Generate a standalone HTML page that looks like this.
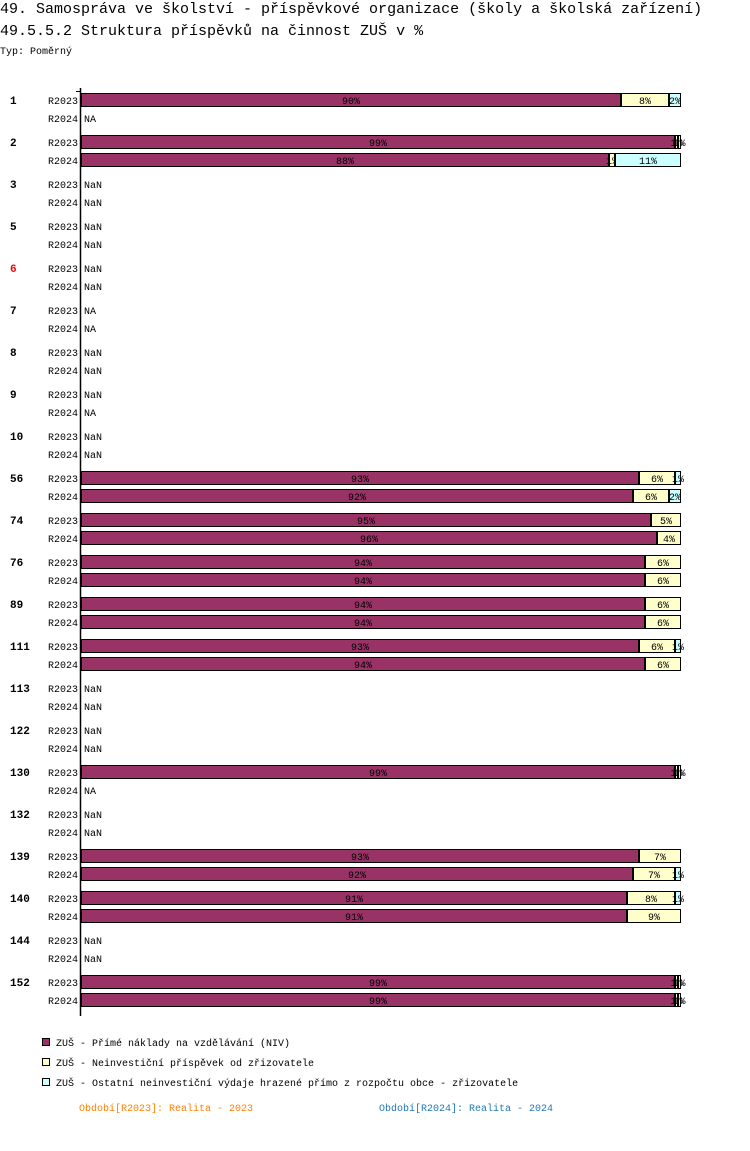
<!DOCTYPE html>
<html><head><meta charset="utf-8">
<style>
body{margin:0;background:#fff;width:750px;height:1146px;overflow:hidden;font-family:"Liberation Mono",monospace;}
svg text{font-family:"Liberation Mono",monospace;}
</style></head>
<body>
<svg id="chart" width="750" height="1146" xmlns="http://www.w3.org/2000/svg">
<text x="0" y="13" font-size="15" fill="#000">49. Samospráva ve školství - příspěvkové organizace (školy a školská zařízení)</text>
<text x="0" y="35" font-size="15" fill="#000">49.5.5.2 Struktura příspěvků na činnost ZUŠ v %</text>
<text x="0" y="54" font-size="10" fill="#000">Typ: Poměrný</text>
<line x1="80.5" y1="88" x2="80.5" y2="1016" stroke="#000" stroke-width="1.5"/>
<line x1="76" y1="91.5" x2="80" y2="91.5" stroke="#000"/>
<g id="bars"></g>
<g>
<rect x="42.5" y="1038.5" width="7" height="7" fill="#993366" stroke="#000"/>
<text x="56" y="1046" font-size="10">ZUŠ - Přímé náklady na vzdělávání (NIV)</text>
<rect x="42.5" y="1058.5" width="7" height="7" fill="#ffffcc" stroke="#000"/>
<text x="56" y="1066" font-size="10">ZUŠ - Neinvestiční příspěvek od zřizovatele</text>
<rect x="42.5" y="1078.5" width="7" height="7" fill="#ccffff" stroke="#000"/>
<text x="56" y="1086" font-size="10">ZUŠ - Ostatní neinvestiční výdaje hrazené přímo z rozpočtu obce - zřizovatele</text>
</g>
<text x="79" y="1111" font-size="10" fill="#ff8000">Období[R2023]: Realita - 2023</text>
<text x="379" y="1111" font-size="10" fill="#1f77b4">Období[R2024]: Realita - 2024</text>
</svg>
<script>
const groups = ["1","2","3","5","6","7","8","9","10","56","74","76","89","111","113","122","130","132","139","140","144","152"];
const series2023 = [[90,8,2],[99,0.5,0.5],"NaN","NaN","NaN","NA","NaN","NaN","NaN",[93,6,1],[95,5,0],[94,6,0],[94,6,0],[93,6,1],"NaN","NaN",[99,0.5,0.5],"NaN",[93,7,0],[91,8,1],"NaN",[99,0.5,0.5]];
const series2024 = ["NA",[88,1,11],"NaN","NaN","NaN","NA","NaN","NA","NaN",[92,6,2],[96,4,0],[94,6,0],[94,6,0],[94,6,0],"NaN","NaN","NA","NaN",[92,7,1],[91,9,0],"NaN",[99,0.5,0.5]];
const periods = ["R2023","R2024"];
const highlightGroup = "6";

const NS = "http://www.w3.org/2000/svg";
const g = document.getElementById("bars");
const colors = ["#993366","#ffffcc","#ccffff"];
const x0 = 81, plotW = 600, groupY0 = 100, groupStep = 42, rowStep = 18, barH = 14;
function xScale(v){ return v/100*plotW; }
function yRow(gi, ri){ return groupY0 + gi*groupStep + ri*rowStep; }
function mk(tag, attrs){ const e=document.createElementNS(NS,tag); for(const k in attrs) e.setAttribute(k,attrs[k]); g.appendChild(e); return e; }

groups.forEach((name, gi) => {
  const gl = mk("text",{x:10,y:yRow(gi,0)+4,"font-size":11,"font-weight":"bold",fill: name===highlightGroup?"#ff0000":"#000"});
  
  
  gl.textContent = name;
  [series2023[gi], series2024[gi]].forEach((vals, ri) => {
    const cy = yRow(gi, ri);
    const pl = mk("text",{x:78,y:cy+4,"font-size":10,"text-anchor":"end",fill:"#000"});
    
    
    pl.textContent = periods[ri];
    if (!Array.isArray(vals)) {
      const t = mk("text",{x:84,y:cy+4,"font-size":10,fill:"#000"});
      
      
      t.textContent = vals;
      return;
    }
    let acc = 0;
    vals.forEach((v, si) => {
      if (v <= 0) return;
      const xs = x0 + xScale(acc), w = xScale(v);
      const r = mk("rect",{x:xs+0.5,y:cy-barH/2+0.5,width:Math.max(w-1,0.5),height:barH-1,fill:colors[si],stroke:"#000","stroke-width":1});
      
      
      const t = mk("text",{x:xs+w/2,y:cy+4,"font-size":10,"text-anchor":"middle",fill:"#000"});
      
      
      t.textContent = Math.round(v) + "%";
      acc += v;
    });
  });
});
</script>
</body></html>
